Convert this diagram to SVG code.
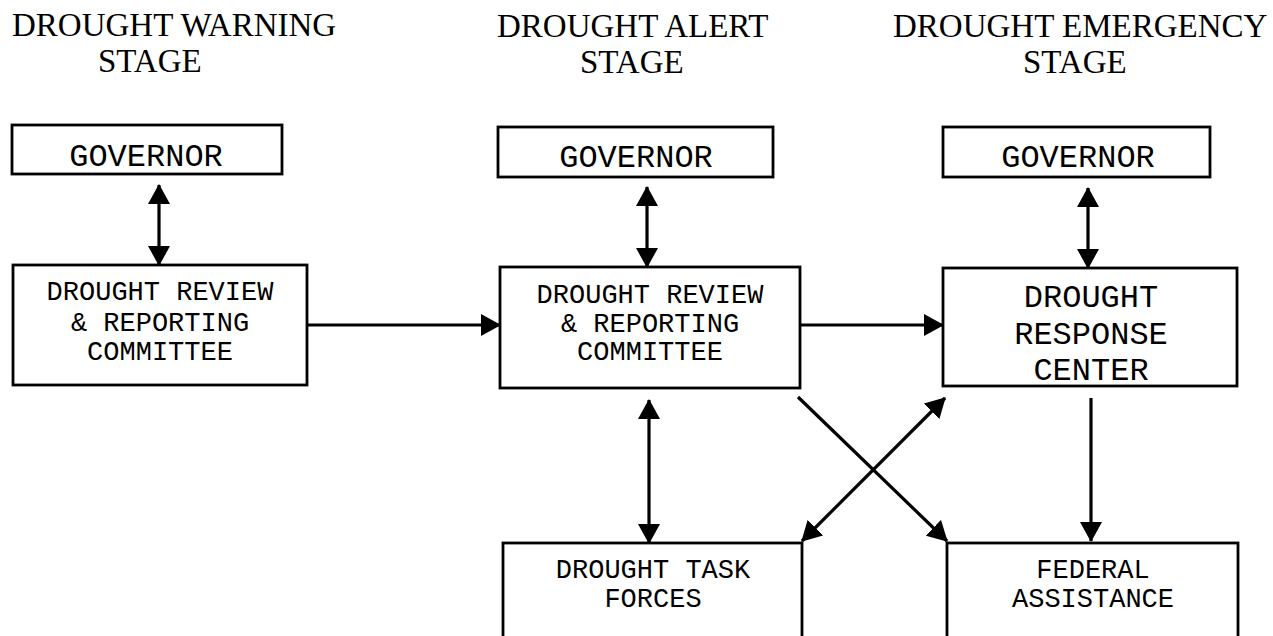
<svg xmlns="http://www.w3.org/2000/svg" width="1273" height="636" viewBox="0 0 1273 636">
<style>
.bg{fill:#fff}
.box{fill:#fff;stroke:#000;stroke-width:2.8}
.title{font-family:"Liberation Serif","Times New Roman",serif;font-size:33px;fill:#000}
.lbl{font-family:"Liberation Mono","Courier New",monospace;font-size:27px;fill:#000;text-anchor:middle}
.big{font-size:32px}
.conn line{stroke:#000;stroke-width:3.2;fill:none}
.one{marker-end:url(#ah)}
.two{marker-start:url(#ah);marker-end:url(#ah)}
</style>
<defs>
<marker id="ah" markerUnits="userSpaceOnUse" viewBox="0 0 20 22" markerWidth="20" markerHeight="22" refX="19" refY="11" orient="auto-start-reverse">
<path d="M0,0 L20,11 L0,22 z" fill="#000"/>
</marker>
</defs>
<rect class="bg" x="0" y="0" width="1273" height="636"/>
<g id="titles">
<text class="title" x="12" y="36">DROUGHT WARNING</text>
<text class="title" x="98" y="72">STAGE</text>
<text class="title" x="497" y="37">DROUGHT ALERT</text>
<text class="title" x="580" y="73">STAGE</text>
<text class="title" x="893" y="37">DROUGHT EMERGENCY</text>
<text class="title" x="1023" y="73">STAGE</text>
</g>
<g id="w-governor">
<rect class="box" x="12" y="125" width="270" height="49"/>
<text class="lbl big" x="146" y="166">GOVERNOR</text>
</g>
<g id="w-drrc">
<rect class="box" x="13" y="265" width="294" height="120"/>
<text class="lbl" x="160" y="300">DROUGHT REVIEW</text>
<text class="lbl" x="160" y="331">&amp; REPORTING</text>
<text class="lbl" x="160" y="360">COMMITTEE</text>
</g>
<g id="a-governor">
<rect class="box" x="498" y="127" width="275" height="50"/>
<text class="lbl big" x="636" y="167">GOVERNOR</text>
</g>
<g id="a-drrc">
<rect class="box" x="500" y="267" width="300" height="121"/>
<text class="lbl" x="650" y="303">DROUGHT REVIEW</text>
<text class="lbl" x="650" y="332">&amp; REPORTING</text>
<text class="lbl" x="650" y="360">COMMITTEE</text>
</g>
<g id="e-governor">
<rect class="box" x="943" y="127" width="267" height="50"/>
<text class="lbl big" x="1078" y="167">GOVERNOR</text>
</g>
<g id="e-drc">
<rect class="box" x="943" y="268" width="294" height="118"/>
<text class="lbl big" x="1091" y="307">DROUGHT</text>
<text class="lbl big" x="1091" y="344">RESPONSE</text>
<text class="lbl big" x="1091" y="380">CENTER</text>
</g>
<g id="task-forces">
<rect class="box" x="503" y="543" width="299" height="120"/>
<text class="lbl" x="653" y="578">DROUGHT TASK</text>
<text class="lbl" x="653" y="607">FORCES</text>
</g>
<g id="federal-assistance">
<rect class="box" x="947" y="543" width="291" height="120"/>
<text class="lbl" x="1093" y="578">FEDERAL</text>
<text class="lbl" x="1093" y="607">ASSISTANCE</text>
</g>
<g id="connectors" class="conn">
<line class="two" x1="159" y1="185" x2="159" y2="265"/>
<line class="two" x1="647" y1="187" x2="647" y2="267"/>
<line class="two" x1="1088" y1="188" x2="1088" y2="268"/>
<line class="one" x1="307" y1="325" x2="500" y2="325"/>
<line class="one" x1="800" y1="325" x2="943" y2="325"/>
<line class="two" x1="649" y1="400" x2="649" y2="543"/>
<line class="one" x1="1091" y1="398" x2="1091" y2="541"/>
<line class="one" x1="798" y1="397" x2="947" y2="541"/>
<line class="two" x1="802" y1="541" x2="945" y2="398"/>
</g>
</svg>
